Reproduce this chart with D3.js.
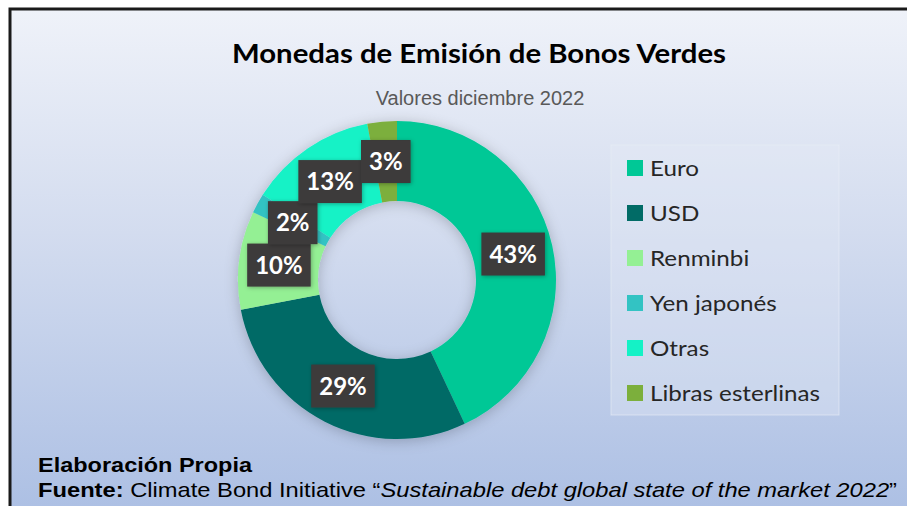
<!DOCTYPE html>
<html>
<head>
<meta charset="utf-8">
<script src="https://cdn.jsdelivr.net/npm/d3@7"></script>
<style>
  html, body { margin: 0; padding: 0; background: #ffffff; }
  svg { display: block; }
</style>
</head>
<body>
<svg id="chart" width="907" height="506"></svg>
<script>
// ---- data ----
const categories = ["Euro", "USD", "Renminbi", "Yen japonés", "Otras", "Libras esterlinas"];
const values = [43, 29, 10, 2, 13, 3];
const colors = ["#00c896", "#016b66", "#94f094", "#33c3c3", "#14f2c6", "#7caf3c"];
const titleText = "Monedas de Emisión de Bonos Verdes";
const subtitleText = "Valores diciembre 2022";

const W = 907, H = 506;
const svg = d3.select("#chart");
const defs = svg.append("defs");

// background gradient
const bg = defs.append("linearGradient").attr("id", "bg").attr("x1", 0).attr("y1", 0).attr("x2", 0).attr("y2", 1);
bg.append("stop").attr("offset", "0%").attr("stop-color", "#eff2f9");
bg.append("stop").attr("offset", "45%").attr("stop-color", "#d3dcef");
bg.append("stop").attr("offset", "100%").attr("stop-color", "#adc0e4");

// shadow filters
const sh = defs.append("filter").attr("id", "shadow").attr("x", "-30%").attr("y", "-30%").attr("width", "160%").attr("height", "160%");
sh.append("feDropShadow").attr("dx", 0).attr("dy", 2).attr("stdDeviation", 7).attr("flood-color", "#000").attr("flood-opacity", 0.22);
const sh2 = defs.append("filter").attr("id", "shadow2").attr("x", "-30%").attr("y", "-30%").attr("width", "160%").attr("height", "160%");
sh2.append("feDropShadow").attr("dx", 1).attr("dy", 1).attr("stdDeviation", 2).attr("flood-color", "#000").attr("flood-opacity", 0.3);

// background + frame
svg.append("rect").attr("x", 10).attr("y", 9).attr("width", W - 10).attr("height", H - 9).attr("fill", "url(#bg)");
svg.append("path").attr("d", `M10,${H} L10,9 L${W},9`).attr("fill", "none").attr("stroke", "#1a1a1a").attr("stroke-width", 3);

// title
svg.append("text")
  .attr("x", 479).attr("y", 63)
  .attr("text-anchor", "middle")
  .attr("font-family", "Lato, 'Open Sans', sans-serif")
  .attr("font-weight", "bold")
  .attr("font-size", 26)
  .attr("fill", "#000")
  .attr("textLength", 494).attr("lengthAdjust", "spacingAndGlyphs")
  .text(titleText);

svg.append("text")
  .attr("x", 480).attr("y", 105)
  .attr("text-anchor", "middle")
  .attr("font-family", "'Liberation Sans', Arial, sans-serif")
  .attr("font-size", 20)
  .attr("fill", "#595959")
  .text(subtitleText);

// donut
const cx = 397, cy = 280, rOuter = 159, rInner = 79;
const pie = d3.pie().sort(null).value(d => d).startAngle(0).endAngle(2 * Math.PI);
const arcs = pie(values);
const arc = d3.arc().innerRadius(rInner).outerRadius(rOuter);

const g = svg.append("g").attr("transform", `translate(${cx},${cy})`);
g.append("g").attr("filter", "url(#shadow)")
  .selectAll("path").data(arcs).join("path")
  .attr("d", arc)
  .attr("fill", (d, i) => colors[i]);

// labels
const lab = g.selectAll("g.lab").data(arcs).join("g").attr("class", "lab")
  .attr("transform", d => `translate(${arc.centroid(d)})`);
lab.each(function(d) {
  const s = d3.select(this);
  const rect = s.append("rect").attr("fill", "#3d3a3a").attr("filter", "url(#shadow2)");
  const t = s.append("text")
    .attr("text-anchor", "middle")
    .attr("dy", "0.36em")
    .attr("font-family", "Lato, 'Open Sans', sans-serif")
    .attr("font-weight", "bold")
    .attr("font-size", 24)
    .attr("fill", "#ffffff")
    .text(d.data + "%");
  const w = t.node().getComputedTextLength() + 16;
  const h = 43;
  rect.attr("x", -w / 2).attr("y", -h / 2).attr("width", w).attr("height", h);
});

// legend
const lg = svg.append("g");
lg.append("rect").attr("x", 611).attr("y", 145).attr("width", 228).attr("height", 270)
  .attr("fill", "#e6ecf6").attr("fill-opacity", 0.35)
  .attr("stroke", "#e9eef7").attr("stroke-opacity", 0.6);
const ly = d3.scalePoint().domain(categories).range([168, 393]);
const items = lg.selectAll("g.item").data(categories).join("g").attr("class", "item")
  .attr("transform", d => `translate(0,${ly(d)})`);
items.append("rect").attr("x", 627).attr("y", -8).attr("width", 16).attr("height", 16)
  .attr("fill", (d, i) => colors[i]);
items.append("text").attr("x", 650).attr("dy", "0.36em")
  .attr("font-family", "Lato, 'Open Sans', sans-serif")
  .attr("font-size", 22)
  .attr("fill", "#262626")
  .text(d => d)
  .each(function() {
    const len = this.getComputedTextLength();
    d3.select(this).attr("textLength", len * 1.1).attr("lengthAdjust", "spacingAndGlyphs");
  });

// footer
const foot = svg.append("g").attr("font-family", "'Liberation Sans', Arial, sans-serif").attr("font-size", 21).attr("fill", "#000");
foot.append("text").attr("x", 38).attr("y", 472).attr("font-weight", "bold")
  .attr("textLength", 214).attr("lengthAdjust", "spacingAndGlyphs")
  .text("Elaboración Propia");
const f2 = foot.append("text").attr("x", 38).attr("y", 497)
  .attr("textLength", 859).attr("lengthAdjust", "spacingAndGlyphs");
f2.append("tspan").attr("font-weight", "bold").text("Fuente:");
f2.append("tspan").text(" Climate Bond Initiative \u201C");
f2.append("tspan").attr("font-style", "italic").text("Sustainable debt global state of the market 2022");
f2.append("tspan").text("\u201D");
</script>
</body>
</html>
